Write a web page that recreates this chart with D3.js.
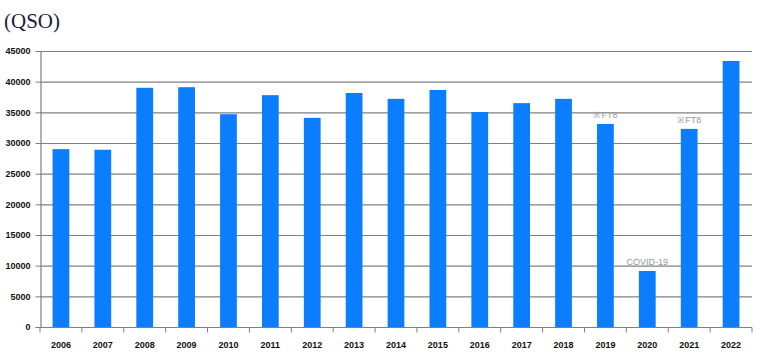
<!DOCTYPE html>
<html><head><meta charset="utf-8">
<script src="https://cdn.jsdelivr.net/npm/d3@7"></script>
<style>body{margin:0;background:#fff}svg{display:block}</style>
</head><body>
<script>
const years = ["2006","2007","2008","2009","2010","2011","2012","2013","2014","2015","2016","2017","2018","2019","2020","2021","2022"];
const qso = [29000,28900,39000,39100,34700,37800,34100,38150,37200,38650,35050,36500,37200,33100,9130,32300,43370];
const yTicks = [0,5000,10000,15000,20000,25000,30000,35000,40000,45000];
const notes = [{year:"2019",text:"※FT8"},{year:"2020",text:"COVID-19"},{year:"2021",text:"※FT8"}];

const W=772,H=357;
const svg=d3.select("body").append("svg").attr("width",W).attr("height",H);
const x=d3.scaleBand().domain(years).range([40,752]).paddingInner(0.6).paddingOuter(0.3);
const y=d3.scaleLinear().domain([0,45000]).range([327,51]);

svg.append("text").attr("x",4).attr("y",28).attr("font-family","Liberation Serif, serif").attr("font-size",21).attr("fill","#1c1c3c").text("(QSO)");

// gridlines
svg.append("g").selectAll("line").data(yTicks.filter(d=>d>0)).join("line")
 .attr("x1",40).attr("x2",752).attr("y1",d=>y(d)+0.5).attr("y2",d=>y(d)+0.5)
 .attr("stroke","#808080").attr("stroke-width",1.2);

// bars
svg.append("g").selectAll("rect").data(years).join("rect")
 .attr("x",d=>x(d)).attr("width",x.bandwidth())
 .attr("y",(d,i)=>y(qso[i])).attr("height",(d,i)=>y(0)-y(qso[i]))
 .attr("fill","#0a7eff");

// y axis
const ya=svg.append("g").attr("transform","translate(40.5,0)")
 .call(d3.axisLeft(y).tickValues(yTicks).tickSize(5).tickPadding(5).tickFormat(d3.format("d")));
ya.select(".domain").attr("stroke","#808080").attr("stroke-width",1.2);
ya.selectAll(".tick line").attr("stroke","#808080");
ya.selectAll("text").attr("font-family","Liberation Sans, Arial, sans-serif").attr("font-size",9).attr("font-weight","bold").attr("fill","#111");

// x axis
const xa=svg.append("g").attr("transform","translate(0,327.5)");
xa.append("line").attr("x1",40).attr("x2",752).attr("stroke","#808080").attr("stroke-width",1.2);
const step=x.step();
xa.selectAll("line.t").data(d3.range(years.length+1)).join("line").attr("class","t")
 .attr("x1",i=>40+i*(712/years.length)).attr("x2",i=>40+i*(712/years.length)).attr("y1",0).attr("y2",5)
 .attr("stroke","#808080");
xa.selectAll("text").data(years).join("text")
 .attr("x",d=>x(d)+x.bandwidth()/2).attr("y",20).attr("text-anchor","middle")
 .attr("font-family","Liberation Sans, Arial, sans-serif").attr("font-size",9).attr("font-weight","bold").attr("fill","#111")
 .text(d=>d);

// notes
svg.append("g").selectAll("text").data(notes).join("text")
 .attr("x",d=>x(d.year)+x.bandwidth()/2).attr("y",d=>y(qso[years.indexOf(d.year)])-6)
 .attr("text-anchor","middle").attr("font-family","Liberation Sans, Arial, sans-serif").attr("font-size",9).attr("fill","#999")
 .text(d=>d.text);
</script>
</body></html>
